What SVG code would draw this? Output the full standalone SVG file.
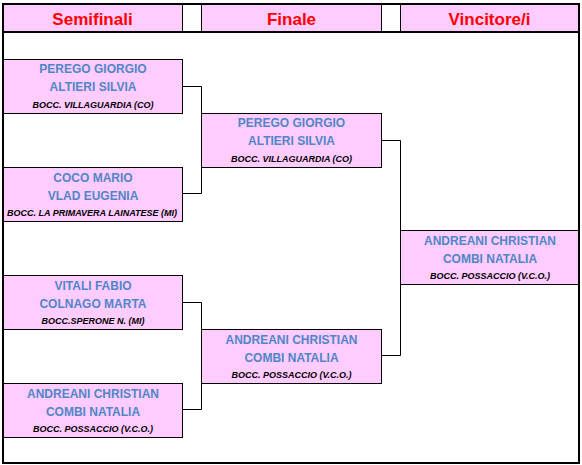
<svg xmlns="http://www.w3.org/2000/svg" width="582" height="465" viewBox="0 0 582 465">
<style>
.hdr{fill:#FFCCFF;stroke:none}
.ht{font-family:"Liberation Sans",Arial,sans-serif;font-weight:bold;font-size:17px;fill:#FF0000;text-anchor:middle}
.box{fill:#FFCCFF;stroke:#000;stroke-width:1}
.nm{font-family:"Liberation Sans",Arial,sans-serif;font-weight:bold;font-size:12px;fill:#4F86C6;text-anchor:middle}
.cl{font-family:"Liberation Sans",Arial,sans-serif;font-weight:bold;font-style:italic;font-size:9px;fill:#000;text-anchor:middle}
.con{fill:none;stroke:#000;stroke-width:1}
</style>
<rect x="0" y="0" width="582" height="465" fill="#fff"/>
<g id="header">
<rect class="hdr" x="4" y="5" width="178.5" height="26"/>
<rect class="hdr" x="201.5" y="5" width="180" height="26"/>
<rect class="hdr" x="400.5" y="5" width="177.5" height="26"/>
<line x1="182.5" y1="4" x2="182.5" y2="32" stroke="#000"/>
<line x1="201.5" y1="4" x2="201.5" y2="32" stroke="#000"/>
<line x1="381.5" y1="4" x2="381.5" y2="32" stroke="#000"/>
<line x1="400.5" y1="4" x2="400.5" y2="32" stroke="#000"/>
<text class="ht" x="92.5" y="24.5">Semifinali</text>
<text class="ht" x="291.5" y="24.5">Finale</text>
<text class="ht" x="489.5" y="24.5">Vincitore/i</text>
</g>
<g id="connectors">
<path class="con" d="M182.5 86.5H201.5V193.5H182.5"/>
<path class="con" d="M182.5 302.5H201.5V409.5H182.5"/>
<path class="con" d="M381.5 140.5H400.5V355.5H381.5"/>
</g>
<g id="semi1">
<rect class="box" x="3.5" y="59.5" width="179" height="54"/>
<text class="nm" x="93" y="73">PEREGO GIORGIO</text>
<text class="nm" x="93" y="91">ALTIERI SILVIA</text>
<text class="cl" x="93" y="107.5">BOCC. VILLAGUARDIA (CO)</text>
</g>
<g id="semi2">
<rect class="box" x="3.5" y="167.5" width="179" height="54"/>
<text class="nm" x="93" y="181.5">COCO MARIO</text>
<text class="nm" x="93" y="199.5">VLAD EUGENIA</text>
<text class="cl" x="92" y="215.5">BOCC. LA PRIMAVERA LAINATESE (MI)</text>
</g>
<g id="semi3">
<rect class="box" x="3.5" y="275.5" width="179" height="54"/>
<text class="nm" x="93" y="289.5">VITALI FABIO</text>
<text class="nm" x="93" y="307.5">COLNAGO MARTA</text>
<text class="cl" x="93" y="323.5">BOCC.SPERONE N. (MI)</text>
</g>
<g id="semi4">
<rect class="box" x="3.5" y="383.5" width="179" height="54"/>
<text class="nm" x="93" y="397.5">ANDREANI CHRISTIAN</text>
<text class="nm" x="93" y="415.5">COMBI NATALIA</text>
<text class="cl" x="93" y="431.5">BOCC. POSSACCIO (V.C.O.)</text>
</g>
<g id="final1">
<rect class="box" x="201.5" y="113.5" width="180" height="54"/>
<text class="nm" x="291.5" y="127">PEREGO GIORGIO</text>
<text class="nm" x="291.5" y="145">ALTIERI SILVIA</text>
<text class="cl" x="291.5" y="161.5">BOCC. VILLAGUARDIA (CO)</text>
</g>
<g id="final2">
<rect class="box" x="201.5" y="329.5" width="180" height="54"/>
<text class="nm" x="291.5" y="343.5">ANDREANI CHRISTIAN</text>
<text class="nm" x="291.5" y="361.5">COMBI NATALIA</text>
<text class="cl" x="291.5" y="377.5">BOCC. POSSACCIO (V.C.O.)</text>
</g>
<g id="winner">
<rect class="box" x="400.5" y="230.5" width="178.5" height="54"/>
<text class="nm" x="490" y="245">ANDREANI CHRISTIAN</text>
<text class="nm" x="490" y="263">COMBI NATALIA</text>
<text class="cl" x="490" y="278.5">BOCC. POSSACCIO (V.C.O.)</text>
</g>
<g id="frame">
<rect x="3" y="4" width="576" height="459" fill="none" stroke="#000" stroke-width="2"/>
<line x1="2" y1="32" x2="580" y2="32" stroke="#000" stroke-width="2"/>
</g>
</svg>
